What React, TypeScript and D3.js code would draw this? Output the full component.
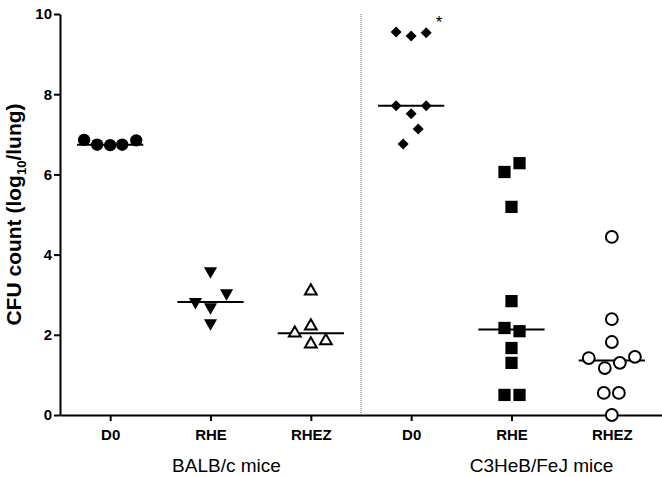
import React, { useEffect, useRef } from "react";
import * as d3 from "d3";

// categories (x positions 0..5, separator between 2 and 3)
const categories = ["D0", "RHE", "RHEZ", "D0", "RHE", "RHEZ"];
const groupLabels = ["BALB/c mice", "C3HeB/FeJ mice"];
const yTicks = [0, 2, 4, 6, 8, 10];

// log10 CFU/lung per group, with horizontal jitter (in category units)
const balbD0 = [6.86, 6.74, 6.73, 6.74, 6.85];
const balbD0Jit = [-0.26, -0.13, 0, 0.12, 0.26];
const balbRHE = [3.59, 2.82, 2.69, 3.04, 2.29];
const balbRHEJit = [0, -0.15, 0, 0.16, 0];
const balbRHEZ = [3.09, 2.04, 2.22, 1.77, 1.85];
const balbRHEZJit = [0, -0.16, 0, 0, 0.15];
const c3D0 = [9.55, 9.45, 9.53, 7.71, 7.71, 7.51, 7.13, 6.76];
const c3D0Jit = [-0.15, 0, 0.15, -0.15, 0.15, 0, 0.07, -0.08];
const c3RHE = [6.28, 6.06, 5.19, 2.84, 2.17, 2.09, 1.67, 1.3, 0.5, 0.5];
const c3RHEJit = [0.08, -0.07, 0, 0, -0.07, 0.08, 0, 0, -0.07, 0.08];
const c3RHEZ = [4.44, 2.39, 1.82, 1.42, 1.45, 1.17, 1.3, 0.55, 0.55, 0];
const c3RHEZJit = [0, 0, 0, -0.23, 0.23, -0.07, 0.08, -0.08, 0.07, 0];

const groups = [
  { values: balbD0, jitter: balbD0Jit, marker: "circle", filled: true },
  { values: balbRHE, jitter: balbRHEJit, marker: "triangleDown", filled: true },
  { values: balbRHEZ, jitter: balbRHEZJit, marker: "triangleUp", filled: false },
  { values: c3D0, jitter: c3D0Jit, marker: "diamond", filled: true },
  { values: c3RHE, jitter: c3RHEJit, marker: "square", filled: true },
  { values: c3RHEZ, jitter: c3RHEZJit, marker: "openCircle", filled: false },
];

const App = () => {
  const svgRef = useRef(null);

  useEffect(() => {
    const svg = d3.select(svgRef.current);
    svg.selectAll("*").remove();

    const width = 662;
    const height = 477;
    const font = "'Liberation Sans', Arial, sans-serif";

    const x = d3.scaleLinear().domain([-0.5, 5.5]).range([60, 662]);
    const y = d3.scaleLinear().domain([0, 10]).range([415, 14]);

    // y axis
    const yAxis = svg
      .append("g")
      .attr("transform", `translate(${x(-0.5)},0)`)
      .call(d3.axisLeft(y).tickValues(yTicks).tickSize(6).tickSizeOuter(0));
    yAxis.select(".domain").attr("stroke", "#000").attr("stroke-width", 2);
    yAxis.selectAll(".tick line").attr("stroke", "#000").attr("stroke-width", 2);
    yAxis
      .selectAll(".tick text")
      .attr("font-family", font)
      .attr("font-size", 15)
      .attr("font-weight", "bold")
      .attr("fill", "#000")
      .attr("x", -8);

    // x axis
    const xAxis = svg
      .append("g")
      .attr("transform", `translate(0,${y(0)})`)
      .call(
        d3
          .axisBottom(x)
          .tickValues(d3.range(categories.length))
          .tickFormat((d) => categories[d])
          .tickSize(6)
          .tickSizeOuter(0)
      );
    xAxis.select(".domain").attr("stroke", "#000").attr("stroke-width", 2);
    xAxis.selectAll(".tick line").attr("stroke", "#000").attr("stroke-width", 2);
    xAxis
      .selectAll(".tick text")
      .attr("font-family", font)
      .attr("font-size", 15)
      .attr("font-weight", "bold")
      .attr("fill", "#000")
      .attr("y", 14);

    // dotted separator between strains
    svg
      .append("line")
      .attr("x1", x(2.5))
      .attr("x2", x(2.5))
      .attr("y1", y(10))
      .attr("y2", y(0))
      .attr("stroke", "#666")
      .attr("stroke-width", 1)
      .attr("stroke-dasharray", "1,1");

    // point symbols
    const symbolFor = {
      circle: d3.symbol().type(d3.symbolCircle).size(120),
      openCircle: d3.symbol().type(d3.symbolCircle).size(110),
      triangleDown: d3.symbol().type(d3.symbolTriangle).size(75),
      triangleUp: d3.symbol().type(d3.symbolTriangle).size(60),
      diamond: d3.symbol().type(d3.symbolSquare).size(60),
      square: d3.symbol().type(d3.symbolSquare).size(150),
    };

    groups.forEach((g, i) => {
      // median line
      const med = d3.median(g.values);
      svg
        .append("line")
        .attr("x1", x(i - 0.33))
        .attr("x2", x(i + 0.33))
        .attr("y1", y(med))
        .attr("y2", y(med))
        .attr("stroke", "#000")
        .attr("stroke-width", 2);

      g.values.forEach((v, j) => {
        let rot = 0;
        if (g.marker === "triangleDown") rot = 180;
        if (g.marker === "diamond") rot = 45;
        svg
          .append("path")
          .attr("d", symbolFor[g.marker]())
          .attr(
            "transform",
            `translate(${x(i + g.jitter[j])},${y(v)}) rotate(${rot})`
          )
          .attr("fill", g.filled ? "#000" : "#fff")
          .attr("stroke", "#000")
          .attr("stroke-width", g.filled ? 0 : 2);
      });
    });

    // significance asterisk
    svg
      .append("text")
      .attr("x", x(3) + 28)
      .attr("y", y(9.55) - 4)
      .attr("text-anchor", "middle")
      .attr("font-family", font)
      .attr("font-size", 17)
      .attr("fill", "#000")
      .text("*");

    // group labels
    [x(1) + 16, x(4) + 30].forEach((gx, i) => {
      svg
        .append("text")
        .attr("x", gx)
        .attr("y", 472)
        .attr("text-anchor", "middle")
        .attr("font-family", font)
        .attr("font-size", 19)
        .attr("fill", "#000")
        .text(groupLabels[i]);
    });

    // y axis title
    const yTitle = svg
      .append("text")
      .attr("transform", `translate(21,${y(5)}) rotate(-90)`)
      .attr("text-anchor", "middle")
      .attr("font-family", font)
      .attr("font-size", 21)
      .attr("font-weight", "bold")
      .attr("fill", "#000");
    yTitle.append("tspan").text("CFU count (log");
    yTitle.append("tspan").attr("font-size", 13).attr("dy", 5).text("10");
    yTitle.append("tspan").attr("dy", -5).text("/lung)");

    svg.attr("width", width).attr("height", height);
  }, []);

  return (
    <div style={{ position: "absolute", left: 0, top: 0 }}>
      <svg ref={svgRef} style={{ display: "block", background: "#fff" }}></svg>
    </div>
  );
};

export default App;
